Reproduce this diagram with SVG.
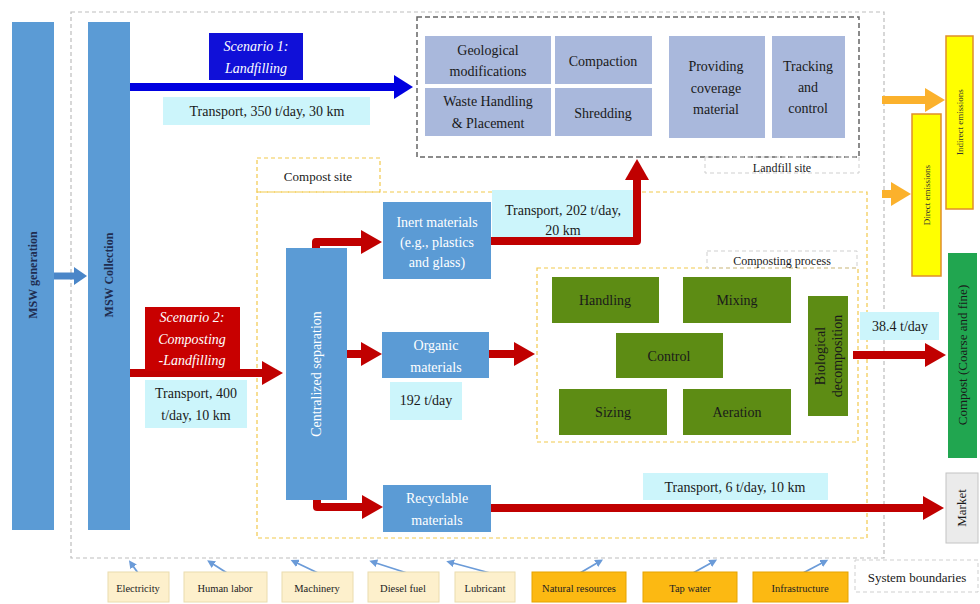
<svg xmlns="http://www.w3.org/2000/svg" width="980" height="604" viewBox="0 0 980 604" font-family="'Liberation Serif', 'Times New Roman', serif">
<defs>
<style>
text{font-family:"Liberation Serif","Times New Roman",serif;font-size:14px;fill:#1a1a1a;text-anchor:middle}
.w{fill:#ffffff}
.it{font-style:italic}
.blue{fill:#5b9bd5}
.lf{fill:#a9b8dc}
.gr{fill:#5d8c14}
.lbl{fill:#ccf5fb}
.cream{fill:#fdf0cc;stroke:#eadcae;stroke-width:1}
.orng{fill:#fcb912;stroke:#e5a300;stroke-width:1}
.yel{fill:#ffff00;stroke:#e08f2a;stroke-width:1.5}
.sm{font-size:10.5px;fill:#222}
.tiny{font-size:9px;fill:#333}
.red{stroke:#c00000;stroke-width:8;fill:none;stroke-linejoin:round}
.bl{stroke:#0000e0;stroke-width:8;fill:none}
.or{stroke:#fbb12c;stroke-width:8;fill:none}
.thin{stroke:#6b9bd8;stroke-width:1.8;fill:none}
.dg{fill:none;stroke:#bdbdbd;stroke-width:1.2;stroke-dasharray:4 3}
.dd{fill:none;stroke:#666;stroke-width:1.5;stroke-dasharray:5 3}
.dy{fill:none;stroke:#f2c94c;stroke-width:1.2;stroke-dasharray:4 3}
</style>
<marker id="hr" markerUnits="userSpaceOnUse" markerWidth="22" markerHeight="24" refX="1" refY="12" orient="auto"><path d="M0,0 L21,12 L0,24 z" fill="#c00000"/></marker>
<marker id="hb" markerUnits="userSpaceOnUse" markerWidth="20" markerHeight="24" refX="1" refY="12" orient="auto"><path d="M0,0 L19,12 L0,24 z" fill="#0000e0"/></marker>
<marker id="hm" markerUnits="userSpaceOnUse" markerWidth="14" markerHeight="18" refX="1" refY="9" orient="auto"><path d="M0,0 L13,9 L0,18 z" fill="#4a86c8"/></marker>
<marker id="ho" markerUnits="userSpaceOnUse" markerWidth="21" markerHeight="24" refX="1" refY="12" orient="auto"><path d="M0,0 L20,12 L0,24 z" fill="#fbb12c"/></marker>
<marker id="ht" markerUnits="userSpaceOnUse" markerWidth="9" markerHeight="8" refX="1" refY="4" orient="auto"><path d="M0,0 L8,4 L0,8 z" fill="#6b9bd8"/></marker>
</defs>
<rect width="980" height="604" fill="#ffffff"/>

<g id="boundaries">
<rect class="dg" x="71" y="12" width="813" height="546"/>
<rect class="dd" x="417" y="17" width="442" height="140"/>
<rect x="705" y="157" width="154" height="16" fill="none" stroke="#cfcfcf" stroke-width="1" stroke-dasharray="4 3"/>
<text x="782" y="172" style="font-size:12px">Landfill site</text>
<rect class="dy" x="257" y="192" width="610" height="346"/>
<rect class="dy" x="257" y="158" width="123" height="34"/>
<text x="318" y="181" style="font-size:13px">Compost site</text>
<rect class="dy" x="537" y="268" width="321" height="174"/>
<rect x="707" y="251" width="150" height="17" fill="none" stroke="#cfcfcf" stroke-width="1" stroke-dasharray="4 3"/>
<text x="782" y="265" style="font-size:12px">Composting process</text>
<rect x="855" y="560" width="123" height="32" fill="#fff" stroke="#cfcfcf" stroke-width="1" stroke-dasharray="4 3"/>
<text x="917" y="582" style="font-size:13px">System boundaries</text>
</g>

<g id="connectors">
<path d="M52,276 L75,276" stroke="#4a86c8" stroke-width="7" fill="none" marker-end="url(#hm)"/>
<path class="bl" d="M130,87 L395,87" marker-end="url(#hb)"/>
<path class="red" d="M130,373 L263,373" marker-end="url(#hr)"/>
<path class="red" d="M316,250 L316,242 L362,242" marker-end="url(#hr)"/>
<path class="red" d="M332,354 L362,354" marker-end="url(#hr)"/>
<path class="red" d="M317,498 L317,507 L363,507" marker-end="url(#hr)"/>
<path class="red" d="M491,241 L637,241 L637,179" marker-end="url(#hr)"/>
<path class="red" d="M489,354 L515,354" marker-end="url(#hr)"/>
<path class="red" d="M491,508 L924,508" marker-end="url(#hr)"/>
<path class="red" d="M853,355 L926,355" marker-end="url(#hr)"/>
<path class="or" d="M882,100 L926,100" marker-end="url(#ho)"/>
<path class="or" d="M882,194 L892,194" marker-end="url(#ho)"/>
<path class="thin" d="M138,573 L133,566" marker-end="url(#ht)"/>
<path class="thin" d="M227,573 L213,564" marker-end="url(#ht)"/>
<path class="thin" d="M318,573 L297,563" marker-end="url(#ht)"/>
<path class="thin" d="M407,573 L376,563" marker-end="url(#ht)"/>
<path class="thin" d="M490,573 L453,563" marker-end="url(#ht)"/>
<path class="thin" d="M580,573 L597,563" marker-end="url(#ht)"/>
<path class="thin" d="M693,573 L711,563" marker-end="url(#ht)"/>
<path class="thin" d="M803,573 L822,563" marker-end="url(#ht)"/>
</g>

<g id="msw-generation">
<rect class="blue" x="12" y="22" width="42" height="508"/>
<text transform="translate(37,275) rotate(-90)" style="font-size:12px;font-weight:bold;fill:#1f2d50">MSW generation</text>
</g>
<g id="msw-collection">
<rect class="blue" x="88" y="22" width="42" height="508"/>
<text transform="translate(113,275) rotate(-90)" style="font-size:12px;font-weight:bold;fill:#1f2d50">MSW Collection</text>
</g>

<g id="scenario1">
<rect x="209" y="33" width="94" height="47" fill="#1010d8"/>
<text class="w it" x="256" y="51">Scenario 1:</text>
<text class="w it" x="256" y="73">Landfilling</text>
</g>
<g id="label-350">
<rect class="lbl" x="163" y="97" width="207" height="28"/>
<text x="267" y="116">Transport, 350 t/day, 30 km</text>
</g>

<g id="geological"><rect class="lf" x="425" y="36" width="126" height="48"/><text x="488" y="55">Geological</text><text x="488" y="76">modifications</text></g>
<g id="waste-handling"><rect class="lf" x="425" y="88" width="126" height="48"/><text x="488" y="106">Waste Handling</text><text x="488" y="128">&amp; Placement</text></g>
<g id="compaction"><rect class="lf" x="555" y="36" width="97" height="48"/><text x="603" y="66">Compaction</text></g>
<g id="shredding"><rect class="lf" x="555" y="88" width="97" height="48"/><text x="603" y="118">Shredding</text></g>
<g id="coverage"><rect class="lf" x="669" y="36" width="96" height="102"/><text x="716" y="71">Providing</text><text x="716" y="93">coverage</text><text x="716" y="114">material</text></g>
<g id="tracking"><rect class="lf" x="772" y="36" width="73" height="102"/><text x="808" y="71">Tracking</text><text x="808" y="92">and</text><text x="808" y="113">control</text></g>

<g id="indirect-emissions"><rect class="yel" x="946" y="36" width="27" height="173"/><text class="tiny" transform="translate(963,122) rotate(-90)">Indirect emissions</text></g>
<g id="direct-emissions"><rect class="yel" x="912" y="114" width="29" height="162"/><text class="tiny" transform="translate(930,195) rotate(-90)">Direct emissions</text></g>

<g id="scenario2">
<rect x="145" y="307" width="95" height="64" fill="#c80000"/>
<text class="w it" x="192" y="322">Scenario 2:</text>
<text class="w it" x="192" y="344">Composting</text>
<text class="w it" x="192" y="365">-Landfilling</text>
</g>
<g id="label-400">
<rect class="lbl" x="145" y="380" width="102" height="48"/>
<text x="196" y="398">Transport, 400</text>
<text x="196" y="420">t/day, 10 km</text>
</g>

<g id="centralized-separation">
<rect class="blue" x="286" y="248" width="61" height="252"/>
<text class="w" transform="translate(321,374) rotate(-90)">Centralized separation</text>
</g>

<g id="inert"><rect class="blue" x="383" y="202" width="108" height="77"/><text class="w" x="437" y="227">Inert materials</text><text class="w" x="437" y="247">(e.g., plastics</text><text class="w" x="437" y="267">and glass)</text></g>
<g id="label-202"><rect class="lbl" x="492" y="190" width="141" height="47"/><text x="563" y="215">Transport, 202 t/day,</text><text x="563" y="235">20 km</text></g>

<g id="organic"><rect class="blue" x="382" y="332" width="107" height="46"/><text class="w" x="436" y="350">Organic</text><text class="w" x="436" y="372">materials</text></g>
<g id="label-192"><rect class="lbl" x="390" y="382" width="72" height="38"/><text x="426" y="405">192 t/day</text></g>

<g id="recyclable"><rect class="blue" x="383" y="485" width="108" height="47"/><text class="w" x="437" y="503">Recyclable</text><text class="w" x="437" y="525">materials</text></g>
<g id="label-6"><rect class="lbl" x="643" y="473" width="185" height="27"/><text x="735" y="492">Transport, 6 t/day, 10 km</text></g>

<g id="handling"><rect class="gr" x="552" y="277" width="107" height="46"/><text x="605" y="305">Handling</text></g>
<g id="mixing"><rect class="gr" x="683" y="277" width="108" height="46"/><text x="737" y="305">Mixing</text></g>
<g id="control"><rect class="gr" x="616" y="333" width="107" height="45"/><text x="669" y="361">Control</text></g>
<g id="sizing"><rect class="gr" x="559" y="389" width="108" height="46"/><text x="613" y="417">Sizing</text></g>
<g id="aeration"><rect class="gr" x="683" y="389" width="108" height="46"/><text x="737" y="417">Aeration</text></g>
<g id="bio-decomposition"><rect class="gr" x="808" y="296" width="40" height="120"/><text transform="translate(828,356) rotate(-90)"><tspan x="0" y="-3">Biological</tspan><tspan x="0" y="14">decomposition</tspan></text></g>

<g id="label-38"><rect class="lbl" x="860" y="312" width="79" height="28"/><text x="900" y="331">38.4 t/day</text></g>
<g id="compost"><rect x="948" y="253" width="29" height="205" fill="#21a650"/><text transform="translate(967,355) rotate(-90)" style="font-size:13px">Compost (Coarse and fine)</text></g>
<g id="market"><rect x="946" y="473" width="32" height="70" fill="#ebebeb" stroke="#c4c4c4" stroke-width="1"/><text transform="translate(966,508) rotate(-90)" style="font-size:13px">Market</text></g>

<g id="electricity"><rect class="cream" x="108" y="572" width="61" height="30"/><text class="sm" x="138" y="592">Electricity</text></g>
<g id="human-labor"><rect class="cream" x="184" y="572" width="83" height="30"/><text class="sm" x="225" y="592">Human labor</text></g>
<g id="machinery"><rect class="cream" x="282" y="572" width="71" height="30"/><text class="sm" x="317" y="592">Machinery</text></g>
<g id="diesel"><rect class="cream" x="368" y="572" width="71" height="30"/><text class="sm" x="403" y="592">Diesel fuel</text></g>
<g id="lubricant"><rect class="cream" x="455" y="572" width="60" height="30"/><text class="sm" x="485" y="592">Lubricant</text></g>
<g id="natural-resources"><rect class="orng" x="532" y="572" width="94" height="30"/><text class="sm" x="579" y="592">Natural resources</text></g>
<g id="tap-water"><rect class="orng" x="643" y="572" width="94" height="30"/><text class="sm" x="690" y="592">Tap water</text></g>
<g id="infrastructure"><rect class="orng" x="753" y="572" width="95" height="30"/><text class="sm" x="800" y="592">Infrastructure</text></g>
</svg>
